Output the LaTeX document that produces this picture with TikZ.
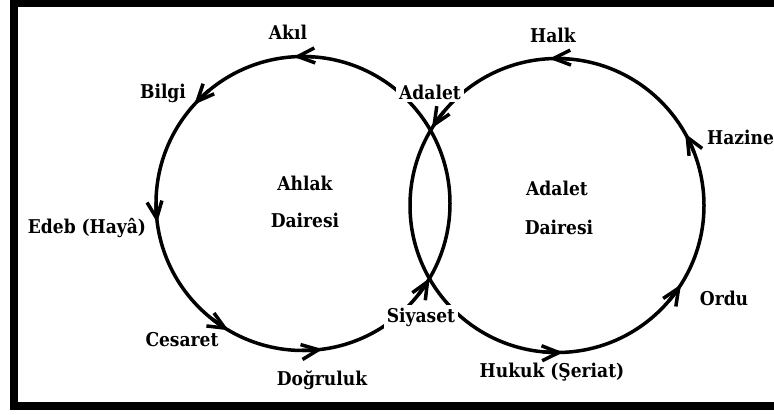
\documentclass[tikz,border=0pt]{standalone}
\usepackage{fontspec}
\setmainfont{DejaVu Serif}[FakeStretch=0.9]
\usetikzlibrary{arrows.meta}
\begin{document}
\begin{tikzpicture}[x=1pt,y=1pt,
  circ/.style={line width=3.5pt},
  tipa/.style={circ,-{Straight Barb[length=17pt,width=15pt,line width=3.5pt]}},
  lbl/.style={font=\fontsize{19}{22}\selectfont\bfseries, inner sep=1pt},
  gap/.style={lbl, fill=white, inner sep=3pt}]
\useasboundingbox (0,0) rectangle (774,415);
\clip (0,0) rectangle (774,415);
\draw[line width=8pt] (14,9) rectangle (800,411.5);
\coordinate (L) at (303,211.5);
\coordinate (R) at (557,209.5);
\draw[circ] (L) circle[radius=147];
\draw[circ] (R) circle[radius=147];
% left circle arrows (counterclockwise)
\foreach \a in {93.7,137.7,187.5,239.6,277.7,329.5}
  \draw[tipa] (L) ++(\a-8:147) arc[start angle=\a-8, end angle=\a, radius=147];
% right circle arrows
\foreach \a in {29.3,93,148.3,272.4,327.5}
  \draw[tipa] (R) ++(\a-8:147) arc[start angle=\a-8, end angle=\a, radius=147];
% labels
\node[lbl] (akil) at (288,383) {Akıl};
\node[lbl] (bilgi) at (163,322) {Bilgi};
\node[lbl] (edeb) at (87,187) {Edeb (Hayâ)};
\node[lbl] (cesaret) at (182,75) {Cesaret};
\node[lbl] (dogruluk) at (322,35) {Doğruluk};
\node[gap] (siyaset) at (421,98) {Siyaset};
\node[lbl] (hukuk) at (552,43) {Hukuk (Şeriat)};
\node[lbl] (ordu) at (724,117) {Ordu};
\node[lbl, anchor=west] (hazine) at (706,278) {Hazine};
\node[lbl] (halk) at (553,380) {Halk};
\node[gap] (adalet) at (430,323) {Adalet};
\node[lbl] (ahlak) at (305,232) {Ahlak};
\node[lbl] (dairesiL) at (305,195) {Dairesi};
\node[lbl] (adaletC) at (557,227) {Adalet};
\node[lbl] (dairesiR) at (559,188) {Dairesi};
\end{tikzpicture}
\end{document}
